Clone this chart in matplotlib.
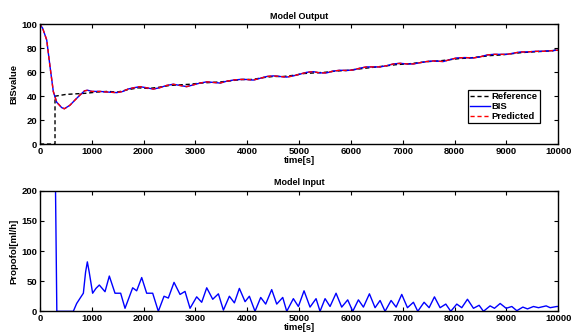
import matplotlib
matplotlib.use('Agg')
import matplotlib.pyplot as plt

plt.rcParams['font.family'] = ['Liberation Sans', 'DejaVu Sans']
plt.rcParams['font.weight'] = 'bold'
plt.rcParams['font.size'] = 6.8

# Model output (BIS)
bis_t = [0, 50, 130, 193, 257, 322, 418, 470, 579, 680, 772, 860, 920, 1000, 1158, 1300, 1480,
         1600, 1700, 1802, 1930, 2060, 2188, 2300, 2445, 2574, 2700, 2831, 2960, 3089, 3218,
         3350, 3475, 3600, 3730, 3861, 3990, 4118, 4250, 4380, 4504, 4630, 4762, 4890, 5019,
         5150, 5277, 5400, 5530, 5660, 5791, 5920, 6050, 6180, 6306, 6430, 6563, 6690, 6821,
         6950, 7080, 7207, 7330, 7464, 7600, 7786, 7900, 8044, 8200, 8366, 8500, 8630, 8752,
         8880, 9010, 9140, 9270, 9396, 9550, 9717, 9850, 10000]
bis_vals = [100, 97, 87, 65, 44, 35, 30.5, 29.5, 32.5, 37, 41, 44.5, 45, 44, 44, 43.5, 43,
            44, 46, 47, 48, 47, 46, 47, 49, 50, 49, 48, 49.5, 51, 52,
            51.5, 51, 52.5, 53.5, 54, 54, 53.5, 55, 56.5, 57, 56.5, 56, 57, 58.5,
            60, 60.5, 59.5, 59.5, 61, 61.7, 61.5, 62, 63.5, 64.5, 64.5, 64.5, 65.5, 67,
            67.5, 67, 67, 68, 69, 69.5, 69, 70.5, 72, 72.3, 72, 73, 74.5, 75,
            75, 75, 76, 77, 77, 77.5, 77.6, 78, 78.5]

# predicted output starts from zero then follows BIS
pred_t = [0] + bis_t
pred_vals = [0] + bis_vals

ref_t = [0, 290, 290, 500, 700, 900, 1100, 1300, 1500, 1700, 1900, 2100, 2300, 2500, 2700,
         2900, 3100, 3300, 3500, 3700, 3900, 4100, 4300, 4500, 4700, 4900, 5100, 5300, 5500,
         5700, 5900, 6100, 6300, 6500, 6700, 6900, 7100, 7300, 7500, 7700, 7900, 8100, 8300,
         8500, 8700, 8900, 9100, 9300, 9500, 9700, 9900, 10000]
ref_vals = [0, 0, 40, 41.5, 42, 42.5, 43.5, 44, 43.5, 45.5, 47, 46.5, 47.5, 49, 49.5,
            50, 51, 51.5, 52, 53, 54, 54, 55.5, 56.5, 56.5, 57.5, 59, 59.5, 60,
            61, 61.5, 62.5, 63.5, 64.5, 65.5, 66.5, 67, 68, 69, 69.5, 70.5, 71.5, 72,
            73, 74, 74.5, 75.5, 76.5, 77, 77.5, 78, 79.5]

# Model input (propofol rate)
u_t = [0, 300, 325, 643, 708, 772, 837, 880, 914, 950, 1016, 1080, 1145, 1255, 1338, 1448,
       1557, 1641, 1789, 1866, 1963, 2059, 2175, 2284, 2394, 2477, 2587, 2703, 2799, 2896,
       3024, 3121, 3218, 3334, 3443, 3540, 3655, 3752, 3848, 3958, 4041, 4150, 4260, 4356,
       4472, 4569, 4685, 4762, 4890, 4987, 5096, 5212, 5328, 5405, 5502, 5598, 5714, 5823,
       5939, 6036, 6145, 6242, 6358, 6467, 6564, 6660, 6776, 6873, 6982, 7092, 7207, 7291,
       7413, 7510, 7613, 7722, 7832, 7928, 8044, 8140, 8250, 8366, 8475, 8559, 8687, 8771,
       8881, 8997, 9106, 9203, 9319, 9409, 9524, 9621, 9769, 9846, 9975, 10000]
u_vals = [200, 200, 0, 0, 13, 21.5, 30, 65, 82, 65, 30, 38, 43.6, 32.5, 58.5, 30,
          30, 5, 39, 34, 56, 30, 30, 0, 25, 22, 48, 28, 33, 5,
          24, 15, 39, 20, 29, 2, 25, 14, 38, 16, 25, 0, 23, 12,
          36, 12, 23, 0, 21, 8, 34, 7, 21, 0, 21, 8, 30, 7,
          19, 0, 19, 7, 29, 6, 18, 0, 18, 7, 28, 6, 15, 0,
          15, 6, 24, 6, 12, 0, 12, 6, 20, 5, 10, 0, 9, 5,
          13, 5, 8, 1, 7, 4, 8, 6, 9, 6, 8, 8]

xticks = list(range(0, 10001, 1000))

fig = plt.figure(figsize=(5.77, 3.35), dpi=100)
ax1 = fig.add_axes([0.0693, 0.570, 0.898, 0.357])
ax2 = fig.add_axes([0.0693, 0.0707, 0.898, 0.360])

ax1.plot(ref_t, ref_vals, 'k--', lw=1.0, dashes=(3, 2), label='Reference')
ax1.plot(bis_t, bis_vals, color='blue', lw=1.0, label='BIS')
ax1.plot(pred_t, pred_vals, 'r--', lw=1.0, dashes=(3, 2), label='Predicted')
ax1.set_xlim(0, 10000)
ax1.set_ylim(0, 100)
ax1.set_yticks([0, 20, 40, 60, 80, 100])
ax1.set_title('Model Output', fontsize=6.5, fontweight='bold', pad=4)
ax1.set_ylabel('BISvalue', labelpad=2, fontweight='bold')
ax1.set_xlabel('time[s]', labelpad=0, fontweight='bold')
leg = ax1.legend(loc='lower right', bbox_to_anchor=(0.965, 0.173), fancybox=False,
                 edgecolor='black', framealpha=1, handlelength=2.1, handletextpad=0.15,
                 borderpad=0.25, labelspacing=0.1, borderaxespad=0,
                 prop={'size': 6.8, 'weight': 'bold'})
leg.get_frame().set_linewidth(0.9)

ax2.plot(u_t, u_vals, color='blue', lw=1.0)
ax2.set_xlim(0, 10000)
ax2.set_ylim(0, 200)
ax2.set_yticks([0, 50, 100, 150, 200])
ax2.set_title('Model Input', fontsize=6.5, fontweight='bold', pad=4)
ax2.set_ylabel('Propofol[ml/h]', labelpad=2, fontweight='bold')
ax2.set_xlabel('time[s]', labelpad=0, fontweight='bold')

for ax in (ax1, ax2):
    ax.set_xticks(xticks)
    ax.tick_params(direction='in', top=True, right=True, length=3, width=0.8, pad=2)
    for s in ax.spines.values():
        s.set_linewidth(1.0)
    for lab in ax.get_xticklabels() + ax.get_yticklabels():
        lab.set_fontweight('bold')
        lab.set_fontsize(6.8)

fig.savefig('out.png', dpi=100)
